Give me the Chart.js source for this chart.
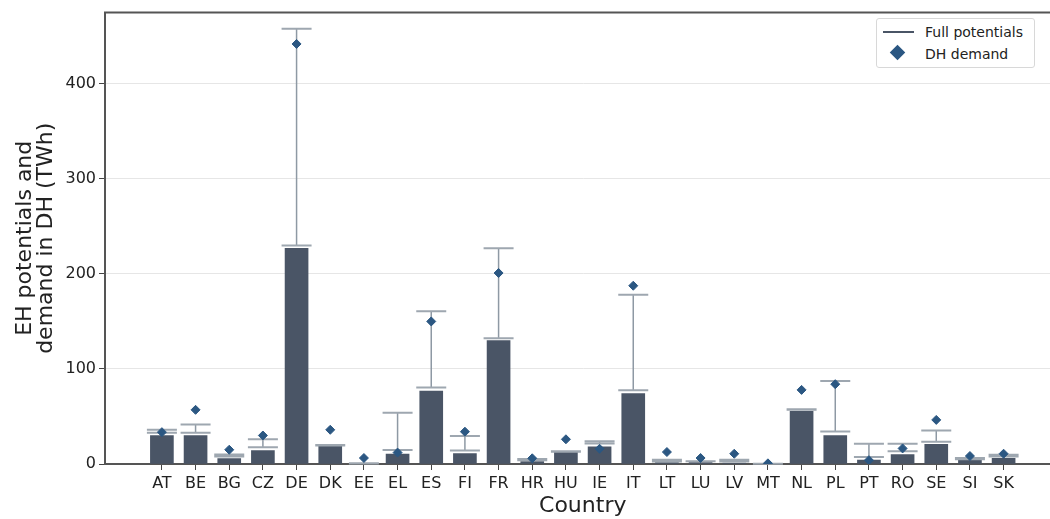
<!DOCTYPE html>
<html>
<head>
<meta charset="utf-8">
<script src="https://cdn.jsdelivr.net/npm/chart.js@4"></script>
<style>
  html, body { margin: 0; padding: 0; background: #fff; overflow: hidden; }
  #wrap { position: relative; width: 1066px; height: 519px; }
  #legend {
    position: absolute; left: 876px; top: 18px; width: 157px; height: 48px;
    border: 1px solid #d8d8d8; border-radius: 3px; background: #fff;
    font-family: "DejaVu Sans", sans-serif; font-size: 14px; color: #222;
  }
  #legend .row { position: absolute; left: 0; height: 20px; line-height: 20px; }
  #legend .txt { position: absolute; left: 48px; white-space: nowrap; }
  #legend .line { position: absolute; left: 6px; top: 9px; width: 31px; height: 0; border-top: 2px solid #4a5566; }
  #legend .dia { position: absolute; left: 15px; top: 3px; width: 11px; height: 11px; background: #2b5782; transform: rotate(45deg); }
</style>
</head>
<body>
<div id="wrap">
  <canvas id="chart" width="1066" height="519"></canvas>
  <div id="legend">
    <div class="row" style="top:3px"><span class="line"></span><span class="txt">Full potentials</span></div>
    <div class="row" style="top:25px"><span class="dia"></span><span class="txt">DH demand</span></div>
  </div>
</div>
<script>
var countries = ['AT','BE','BG','CZ','DE','DK','EE','EL','ES','FI','FR','HR','HU','IE','IT','LT','LU','LV','MT','NL','PL','PT','RO','SE','SI','SK'];
var basePotential = [30, 30, 5.6, 14, 227, 19, 0.5, 10.5, 76.8, 11, 130, 2.5, 12.5, 18, 74, 1.5, 1.5, 1, 0, 55.5, 30, 4, 10, 20.6, 3.8, 6];
var lowerPotential = [33, 33, 8, 17.5, 230, 19.5, 0.6, 14.7, 80.5, 14.3, 132.4, 4, 13, 21.6, 77.6, 2.5, 2.8, 2.5, 0.2, 57, 34.3, 7.3, 13.3, 23.4, 5, 8];
var fullPotential = [36, 41.6, 10, 26, 458, 20, 0.8, 54, 160.7, 29.4, 227, 5.2, 13.5, 24, 178, 4.5, 3, 4.5, 0.3, 57.5, 87.3, 21.3, 21.3, 35.3, 6.3, 9.8];
var dhDemand = [33.5, 57, 15, 30, 442, 36, 6.3, 12, 150, 34, 201, 6, 26, 16, 187.6, 12.6, 6.3, 10.8, 0.7, 78, 84, 4, 16.4, 46.4, 8.4, 10.8];
var yTicks = [0, 100, 200, 300, 400];

var errorBars = {
    id: 'errorBars',
    afterDatasetDraw: function(chart, args) {
        if (args.index !== 0) return;
        var ctx = chart.ctx;
        var xs = chart.scales.x, ys = chart.scales.y;
        ctx.save();
        for (var i = 0; i < countries.length; i++) {
            var x = xs.getPixelForValue(i);
            var y1 = ys.getPixelForValue(lowerPotential[i]);
            var y2 = ys.getPixelForValue(fullPotential[i]);
            ctx.strokeStyle = '#8e99a4';
            ctx.lineWidth = 1.5;
            ctx.beginPath();
            ctx.moveTo(x, y1);
            ctx.lineTo(x, y2);
            ctx.stroke();
            ctx.strokeStyle = '#9ea7b0';
            ctx.lineWidth = 2;
            ctx.beginPath();
            ctx.moveTo(x - 15, y1); ctx.lineTo(x + 15, y1);
            ctx.moveTo(x - 15, y2); ctx.lineTo(x + 15, y2);
            ctx.stroke();
        }
        ctx.restore();
    }
};

var topSpine = {
    id: 'topSpine',
    afterDraw: function(chart) {
        var a = chart.chartArea, ctx = chart.ctx;
        ctx.save();
        ctx.strokeStyle = '#555';
        ctx.lineWidth = 2;
        ctx.beginPath();
        ctx.moveTo(a.left - 1, a.top);
        ctx.lineTo(a.right, a.top);
        ctx.stroke();
        ctx.restore();
    }
};

new Chart(document.getElementById('chart'), {
    type: 'bar',
    data: {
        datasets: [{
            type: 'bar',
            label: 'Potential',
            data: basePotential.map(function(v, i) { return {x: i, y: v}; }),
            backgroundColor: '#4a5566',
            barThickness: 23,
            order: 1
        }, {
            type: 'scatter',
            label: 'DH demand',
            data: dhDemand.map(function(v, i) { return {x: i, y: v}; }),
            pointStyle: 'rectRot',
            pointRadius: 4.5,
            pointBackgroundColor: '#2b5782',
            pointBorderColor: '#2b5782',
            order: 0
        }]
    },
    options: {
        responsive: false,
        animation: false,
        layout: { padding: { top: 11, right: 4, left: 0, bottom: 0 } },
        plugins: { legend: { display: false }, tooltip: { enabled: false } },
        scales: {
            x: {
                type: 'linear',
                offset: false,
                bounds: 'data',
                min: -1.69,
                max: 26.69,
                afterBuildTicks: function(s) { s.ticks = countries.map(function(c, i) { return {value: i}; }); },
                afterFit: function(s) { s.height = 55; },
                grid: { offset: false, drawOnChartArea: false, tickLength: 6, tickColor: '#444' },
                border: { color: '#555', width: 2 },
                ticks: {
                    autoSkip: false, maxRotation: 0, padding: 4,
                    color: '#222',
                    font: { family: 'DejaVu Sans', size: 16 },
                    callback: function(v) { return countries[v]; }
                },
                title: {
                    display: true, text: 'Country', color: '#222', padding: { top: 0, bottom: 0 },
                    font: { family: 'DejaVu Sans', size: 22 }
                }
            },
            y: {
                min: 0,
                max: 475,
                afterBuildTicks: function(s) { s.ticks = yTicks.map(function(v) { return {value: v}; }); },
                afterFit: function(s) { s.width = 105; },
                grid: { color: '#e6e6e6', tickLength: 6, tickColor: '#444' },
                border: { color: '#555', width: 2 },
                ticks: {
                    padding: 3, color: '#222',
                    font: { family: 'DejaVu Sans', size: 16 }
                },
                title: {
                    display: true, text: ['EH potentials and', 'demand in DH (TWh)'], color: '#222',
                    padding: { top: 15, bottom: 4 },
                    font: { family: 'DejaVu Sans', size: 22, lineHeight: 0.95 }
                }
            }
        }
    },
    plugins: [errorBars, topSpine]
});
</script>
</body>
</html>
